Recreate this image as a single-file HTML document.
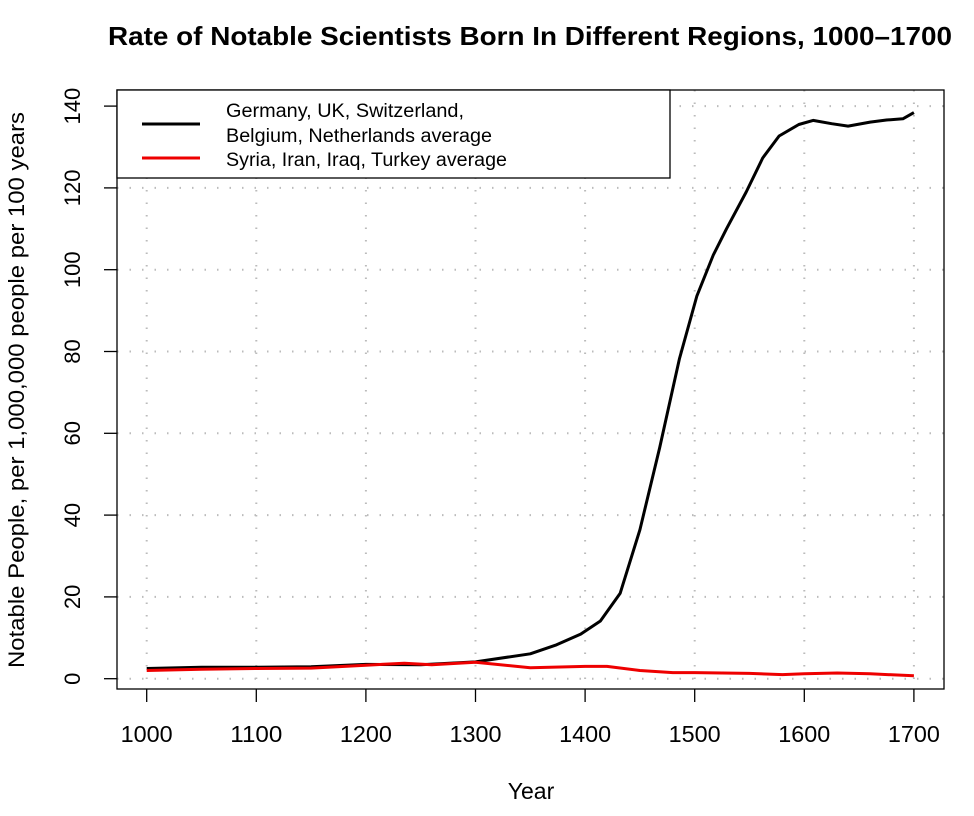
<!DOCTYPE html>
<html><head><meta charset="utf-8"><style>
body{margin:0;background:#fff}
svg text{font-family:"Liberation Sans",Arial,sans-serif;fill:#000}
</style></head><body>
<svg id="c" width="974" height="811" viewBox="0 0 974 811">
<text x="530" y="45" text-anchor="middle" font-size="26" font-weight="bold" textLength="844" lengthAdjust="spacingAndGlyphs">Rate of Notable Scientists Born In Different Regions, 1000–1700</text>
<text x="531" y="799" text-anchor="middle" font-size="23">Year</text>
<text transform="translate(24,390) rotate(-90)" text-anchor="middle" font-size="22" textLength="556" lengthAdjust="spacingAndGlyphs">Notable People, per 1,000,000 people per 100 years</text>
<g id="grid"></g><g id="axes"></g><g id="lines"></g>
<g>
<rect x="117" y="90" width="553" height="88" fill="#fff" stroke="#000" stroke-width="1.3"/>
<line x1="142" y1="124" x2="200" y2="124" stroke="#000" stroke-width="3"/>
<line x1="142" y1="158" x2="200" y2="158" stroke="#e00" stroke-width="3"/>
<text x="226" y="117" font-size="19" textLength="238" lengthAdjust="spacingAndGlyphs">Germany, UK, Switzerland,</text>
<text x="226" y="142" font-size="19" textLength="266" lengthAdjust="spacingAndGlyphs">Belgium, Netherlands average</text>
<text x="226" y="166" font-size="19" textLength="281" lengthAdjust="spacingAndGlyphs">Syria, Iran, Iraq, Turkey average</text>
</g>
</svg>
<script>
const xTicks=[1000,1100,1200,1300,1400,1500,1600,1700];
const yTicks=[0,20,40,60,80,100,120,140];
const europeYears=[1000,1050,1100,1150,1200,1250,1300,1350,1374,1396,1414,1432,1450,1468,1486,1502,1517,1529,1547,1562,1577,1595,1608,1625,1640,1660,1675,1690,1700];
const europeValues=[2.5,2.8,2.8,2.9,3.5,3.4,4.1,6.1,8.3,10.9,14.1,20.9,36.4,56.4,78.2,93.6,103.6,110,119,127.3,132.7,135.5,136.5,135.7,135.1,136.1,136.6,136.9,138.4];
const mideastYears=[1000,1050,1100,1150,1200,1235,1260,1300,1350,1400,1420,1450,1480,1500,1550,1580,1600,1630,1660,1700];
const mideastValues=[2.0,2.3,2.5,2.6,3.3,3.8,3.4,4.0,2.7,3.0,3.0,2.0,1.5,1.5,1.3,1.0,1.2,1.4,1.2,0.7];
const X=v=>146.7+(v-1000)*1.096;
const Y=v=>678.7-v*4.09;
const NS='http://www.w3.org/2000/svg';
function mk(p,t,a){const e=document.createElementNS(NS,t);for(const k in a)e.setAttribute(k,a[k]);p.appendChild(e);return e;}
const grid=document.getElementById('grid'),axes=document.getElementById('axes'),lines=document.getElementById('lines');
mk(axes,'rect',{x:117,y:90,width:827,height:599,fill:'none',stroke:'#000','stroke-width':1.3});
xTicks.forEach(t=>{
 const g=mk(grid,'line',{x1:X(t),x2:X(t),y1:90,y2:689,stroke:'#bbb','stroke-dasharray':'1.5 11','stroke-width':2});
 
 
 mk(axes,'line',{x1:X(t),x2:X(t),y1:689,y2:702,stroke:'#000','stroke-width':1.3});
 const tx=mk(axes,'text',{x:X(t),y:742,'text-anchor':'middle','font-size':23,textLength:52,lengthAdjust:'spacingAndGlyphs'});
 tx.textContent=t;
 
 
});
yTicks.forEach(t=>{
 const g=mk(grid,'line',{x1:117,x2:944,y1:Y(t),y2:Y(t),stroke:'#bbb','stroke-dasharray':'1.5 11','stroke-width':2});
 
 
 mk(axes,'line',{x1:104,x2:117,y1:Y(t),y2:Y(t),stroke:'#000','stroke-width':1.3});
 const tx=mk(axes,'text',{transform:`translate(80,${Y(t)}) rotate(-90)`,'text-anchor':'middle','font-size':22});
 tx.textContent=t;
 
 
});
function path(xs,ys){return xs.map((x,i)=>(i?'L':'M')+X(x).toFixed(1)+','+Y(ys[i]).toFixed(1)).join('');}
const l1=mk(lines,'path',{d:path(europeYears,europeValues),fill:'none',stroke:'#000','stroke-width':3,'stroke-linejoin':'round'});


const l2=mk(lines,'path',{d:path(mideastYears,mideastValues),fill:'none',stroke:'#e00','stroke-width':3,'stroke-linejoin':'round'});


</script>
</body></html>
